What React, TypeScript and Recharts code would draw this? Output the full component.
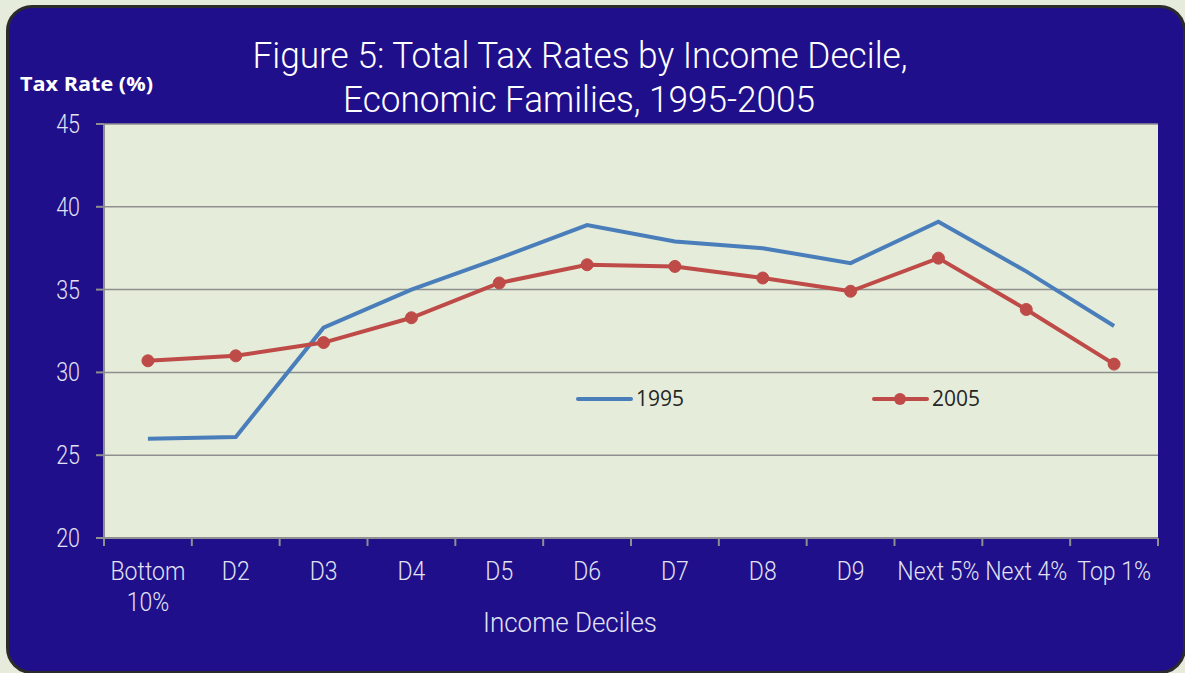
import React from 'react';
import { LineChart, Line, XAxis, YAxis, CartesianGrid } from 'recharts';

const categories = ['Bottom 10%', 'D2', 'D3', 'D4', 'D5', 'D6', 'D7', 'D8', 'D9', 'Next 5%', 'Next 4%', 'Top 1%'];
const tickLabels: string[][] = [['Bottom', '10%'], ['D2'], ['D3'], ['D4'], ['D5'], ['D6'], ['D7'], ['D8'], ['D9'], ['Next 5%'], ['Next 4%'], ['Top 1%']];
const rate1995 = [26.0, 26.1, 32.7, 35.0, 36.9, 38.9, 37.9, 37.5, 36.6, 39.1, 36.1, 32.8];
const rate2005 = [30.7, 31.0, 31.8, 33.3, 35.4, 36.5, 36.4, 35.7, 34.9, 36.9, 33.8, 30.5];
const yTicks = [20, 25, 30, 35, 40, 45];
const boundaryTicks = [0, 1, 2, 3, 4, 5, 6, 7, 8, 9, 10, 11, 12];

const data = categories.map((c, i) => ({ pos: i + 0.5, name: c, y1995: rate1995[i], y2005: rate2005[i] }));

const W = 1185;
const H = 673;
const MARGIN = { top: 124, right: 27, bottom: 95, left: 44 };
const YAXIS_W = 60;
const XAXIS_H = 40;
const HALF_BAND = (W - MARGIN.left - MARGIN.right - YAXIS_W) / categories.length / 2;

const NAVY = '#1f0f8a';
const TICK_FILL = '#e2e2f2';
const AXIS = '#8f8f8f';
const BLUE = '#4a7ebb';
const RED = '#be4b48';
const FONT = 'Roboto, sans-serif';

const XTick = (props: any) => {
  const { x, y, payload } = props;
  const i = payload.value;
  if (i >= categories.length) return <g />;
  const lines = tickLabels[i];
  return (
    <g transform={`translate(${x + HALF_BAND},${y}) scale(0.92,1)`}>
      <text textAnchor="middle" fill={TICK_FILL} fontSize={25} fontFamily={FONT} fontWeight={300}>
        {lines.map((l, k) => (
          <tspan key={k} x={0} y={32 + k * 31}>{l}</tspan>
        ))}
      </text>
    </g>
  );
};

const YTick = (props: any) => {
  const { x, y, payload } = props;
  return (
    <g transform={`translate(${x},${y}) scale(0.86,1)`}>
      <text textAnchor="end" dy="0.36em" fill={TICK_FILL} fontSize={25} fontFamily={FONT} fontWeight={300}>
        {payload.value}
      </text>
    </g>
  );
};

export default function App() {
  return (
    <div style={{ position: 'absolute', left: 0, top: 0, width: W, height: H, overflow: 'hidden', background: '#e6ecdc' }}>
      <div
        style={{
          position: 'absolute', left: 6, top: 5, width: 1180, height: 669, boxSizing: 'border-box',
          border: '3px solid #2b2b2b', borderRadius: 26, background: NAVY,
        }}
      />
      <div style={{ position: 'absolute', left: 0, top: 0 }}>
        <LineChart width={W} height={H} data={data} margin={MARGIN}>
          <CartesianGrid vertical={false} stroke={AXIS} strokeWidth={1.5} fill="#e5ecd9" fillOpacity={1} />
          <XAxis
            dataKey="pos"
            type="number"
            domain={[0, 12]}
            ticks={boundaryTicks}
            interval={0}
            height={XAXIS_H}
            tick={<XTick />}
            tickSize={8}
            tickMargin={2}
            stroke={AXIS}
            axisLine={{ stroke: AXIS, strokeWidth: 2 }}
            tickLine={{ stroke: AXIS, strokeWidth: 2 }}
          />
          <YAxis
            domain={[20, 45]}
            ticks={yTicks}
            interval={0}
            width={YAXIS_W}
            tick={<YTick />}
            tickSize={8}
            tickMargin={16}
            axisLine={{ stroke: AXIS, strokeWidth: 2 }}
            tickLine={{ stroke: AXIS, strokeWidth: 2 }}
          />
          <Line dataKey="y1995" stroke={BLUE} strokeWidth={4} dot={false} isAnimationActive={false} />
          <Line
            dataKey="y2005"
            stroke={RED}
            strokeWidth={4}
            dot={{ r: 6, fill: RED, stroke: RED, strokeWidth: 1 }}
            isAnimationActive={false}
          />
        </LineChart>
      </div>
      <svg width={W} height={H} style={{ position: 'absolute', left: 0, top: 0, pointerEvents: 'none' }}>
        <text x={580} y={68} textAnchor="middle" fill="#ffffff" fontSize={36} fontFamily={FONT} fontWeight={300}
          textLength={655} lengthAdjust="spacingAndGlyphs">
          Figure 5: Total Tax Rates by Income Decile,
        </text>
        <text x={579} y={112} textAnchor="middle" fill="#ffffff" fontSize={36} fontFamily={FONT} fontWeight={300}
          textLength={472} lengthAdjust="spacingAndGlyphs">
          Economic Families, 1995-2005
        </text>
        <text x={20} y={91} fill="#ffffff" fontSize={19} fontFamily="'Open Sans', sans-serif" fontWeight={700}
          textLength={133} lengthAdjust="spacingAndGlyphs">
          Tax Rate (%)
        </text>
        <text x={570} y={632} textAnchor="middle" fill={TICK_FILL} fontSize={27} fontFamily={FONT} fontWeight={300}
          textLength={174} lengthAdjust="spacingAndGlyphs">
          Income Deciles
        </text>
        <g>
          <line x1={578} y1={399} x2={631} y2={399} stroke={BLUE} strokeWidth={4} strokeLinecap="round" />
          <text x={636} y={406} fill="#262626" fontSize={21} fontFamily="'Open Sans', sans-serif">1995</text>
          <line x1={874} y1={399} x2={927} y2={399} stroke={RED} strokeWidth={4} strokeLinecap="round" />
          <circle cx={900} cy={399} r={6} fill={RED} />
          <text x={932} y={406} fill="#262626" fontSize={21} fontFamily="'Open Sans', sans-serif">2005</text>
        </g>
      </svg>
    </div>
  );
}
